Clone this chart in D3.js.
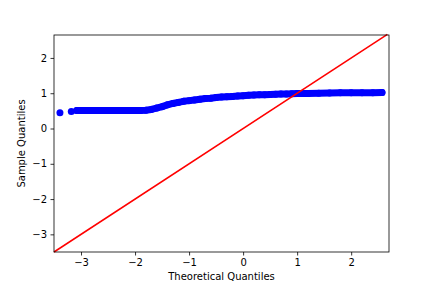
<!DOCTYPE html>
<html>
<head>
<meta charset="utf-8">
<script src="https://d3js.org/d3.v7.min.js"></script>
<style>
  body { margin: 0; background: white; }
  text { font-family: "DejaVu Sans", sans-serif; }
</style>
</head>
<body>
<svg id="chart" width="432" height="288"></svg>
<script>
// theoretical quantiles (x) and sample quantiles (y)
var theoretical = [-3.39, -3.18, -3.08, -2.9, -2.7, -2.5, -2.3, -2.1, -1.9, -1.8, -1.7, -1.6, -1.5, -1.4, -1.3, -1.2, -1.1, -1.0,
                   -0.9, -0.8, -0.7, -0.6, -0.5, -0.4, -0.3, -0.2, -0.1, 0, 0.1, 0.2, 0.3, 0.4, 0.5, 0.6, 0.7, 0.8, 0.9, 1.0,
                   1.2, 1.4, 1.6, 1.8, 2.0, 2.2, 2.4, 2.57];
var sample = [0.45, 0.48, 0.51, 0.51, 0.51, 0.51, 0.51, 0.51, 0.51, 0.52, 0.54, 0.58, 0.62, 0.67, 0.71, 0.74, 0.77, 0.79,
              0.81, 0.83, 0.85, 0.86, 0.88, 0.89, 0.90, 0.91, 0.92, 0.93, 0.94, 0.95, 0.955, 0.96, 0.965, 0.97, 0.975, 0.98, 0.985, 0.99,
              0.995, 1.0, 1.005, 1.01, 1.01, 1.015, 1.015, 1.02];
// 45 degree reference line
var lineEnds = [-3.5, 2.67];
var xTicks = [-3, -2, -1, 0, 1, 2];
var yTicks = [-3, -2, -1, 0, 1, 2];

var mLeft = 54, mRight = 389, mTop = 35, mBottom = 252;
var svg = d3.select("#chart");

var x = d3.scaleLinear().domain([-3.5, 2.7]).range([mLeft, mRight]);
var y = d3.scaleLinear().domain([-3.5, 2.65]).range([mBottom, mTop]);

var pts = theoretical.map(function(t, i) { return [t, sample[i]]; });

// thick band through the dense part of the sample
var line = d3.line().x(function(d) { return x(d[0]); }).y(function(d) { return y(d[1]); });
svg.append("path")
  .attr("d", line(pts.slice(2)))
  .attr("fill", "none")
  .attr("stroke", "#0000ff")
  .attr("stroke-width", 7)
  .attr("stroke-linecap", "round")
  .attr("stroke-linejoin", "round");

svg.selectAll("circle.pt")
  .data(pts)
  .enter()
  .append("circle")
  .attr("class", "pt")
  .attr("cx", function(d) { return x(d[0]); })
  .attr("cy", function(d) { return y(d[1]); })
  .attr("r", 3.5)
  .attr("fill", "#0000ff");

svg.append("line")
  .attr("x1", x(lineEnds[0])).attr("y1", y(lineEnds[0]))
  .attr("x2", x(lineEnds[1])).attr("y2", y(lineEnds[1]))
  .attr("stroke", "#ff0000")
  .attr("stroke-width", 1.5);

var fmt = function(d) { return d < 0 ? "\u2212" + Math.abs(d) : d; };

var xAxis = svg.append("g")
  .attr("transform", "translate(0," + mBottom + ")")
  .call(d3.axisBottom(x).tickValues(xTicks).tickFormat(fmt).tickSizeInner(3.5).tickSizeOuter(0).tickPadding(3.5));
var yAxis = svg.append("g")
  .attr("transform", "translate(" + mLeft + ",0)")
  .call(d3.axisLeft(y).tickValues(yTicks).tickFormat(fmt).tickSizeInner(3.5).tickSizeOuter(0).tickPadding(3.5));
[xAxis, yAxis].forEach(function(a) {
  a.select(".domain").remove();
  a.selectAll("line").attr("stroke", "#000").attr("stroke-width", 0.8);
  a.selectAll("text").attr("font-size", 10).attr("fill", "#000").attr("font-family", "DejaVu Sans");
});

svg.append("rect")
  .attr("x", mLeft).attr("y", mTop)
  .attr("width", mRight - mLeft).attr("height", mBottom - mTop)
  .attr("fill", "none").attr("stroke", "#000").attr("stroke-width", 0.8);

svg.append("text")
  .attr("x", (mLeft + mRight) / 2).attr("y", 280)
  .attr("text-anchor", "middle").attr("font-size", 10)
  .text("Theoretical Quantiles");
svg.append("text")
  .attr("transform", "translate(25," + ((mTop + mBottom) / 2) + ") rotate(-90)")
  .attr("text-anchor", "middle").attr("font-size", 10)
  .text("Sample Quantiles");
</script>
</body>
</html>
